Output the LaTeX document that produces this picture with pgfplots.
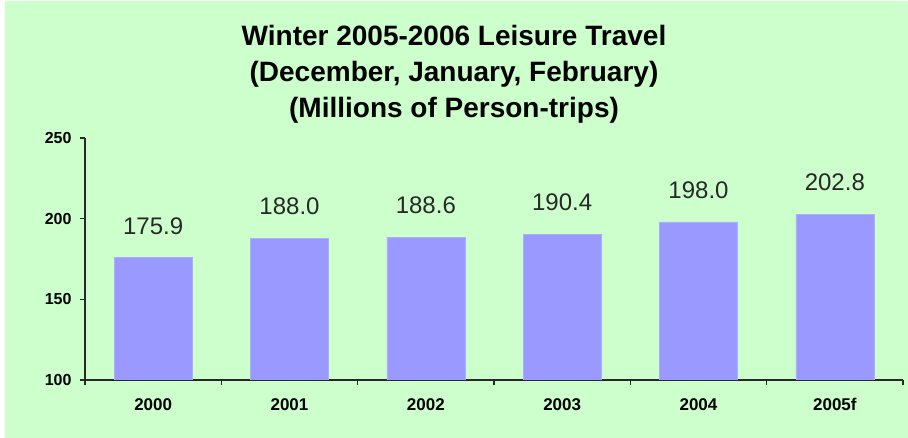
\documentclass[border=0pt]{standalone}
\usepackage{fontspec}
\setmainfont{Liberation Sans}
\usepackage{pgfplots}
\pgfplotsset{compat=1.18}
\definecolor{bggreen}{RGB}{204,255,204}
\definecolor{barblue}{RGB}{153,153,255}
\definecolor{axisdark}{RGB}{40,40,40}
\definecolor{labeldark}{RGB}{40,40,40}

\begin{document}
\begin{tikzpicture}
  % background panel
  \fill[white] (0pt,0pt) rectangle (908pt,438pt);
  \fill[bggreen] (5pt,0pt) rectangle (908pt,437pt);

  \node[align=center, font=\bfseries\fontsize{28}{36}\selectfont]
    at (454pt,364pt)
    {Winter 2005-2006 Leisure Travel\\(December, January, February)\\(Millions of Person-trips)};

\begin{axis}[
  scale only axis,
  width=818pt, height=242pt,
  at={(85pt,58pt)}, anchor=south west,
  xmin=0, xmax=6,
  ymin=100, ymax=250,
  ytick={100,150,200,250},
  xtick={0,1,...,6},
  x tick label as interval,
  xticklabels={2000,2001,2002,2003,2004,2005f},
  axis x line*=bottom, axis y line*=left,
  axis line style={draw=axisdark, line width=1.4pt, -},
  tick align=outside,
  major tick length=5pt,
  tick style={draw=axisdark, line width=1.2pt},
  /pgf/number format/assume math mode=true,
  xticklabel style={font=\bfseries\fontsize{17}{17}\selectfont, color=black, yshift=-10pt},
  yticklabel style={font=\bfseries\fontsize{16}{16}\selectfont, color=black, xshift=-5pt},
  ybar, bar width=78pt,
  nodes near coords={\pgfmathprintnumber[fixed,fixed zerofill,precision=1]{\pgfplotspointmeta}},
  every node near coord/.append style={font=\fontsize{24}{24}\selectfont, color=labeldark,
    anchor=south, inner sep=0pt, yshift=23pt},
]
  \addplot[fill=barblue, draw=barblue!80!white] coordinates {
    (0.5,175.9) (1.5,188.0) (2.5,188.6) (3.5,190.4) (4.5,198.0) (5.5,202.8)
  };
\end{axis}
\end{tikzpicture}
\end{document}
